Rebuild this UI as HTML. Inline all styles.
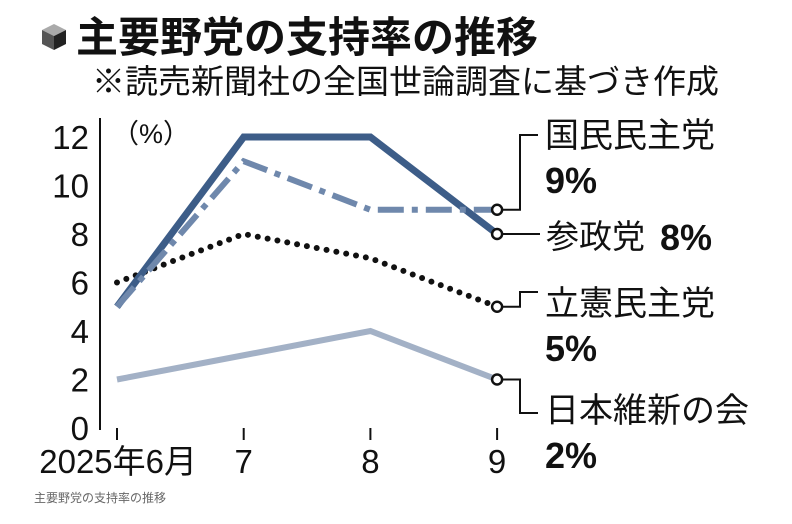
<!DOCTYPE html>
<html><head><meta charset="utf-8"><style>
html,body{margin:0;padding:0;background:#fff;}
svg{display:block;font-family:"Liberation Sans","Noto Sans CJK JP",sans-serif;}
</style></head><body>
<svg id="chart" width="792" height="524" viewBox="0 0 792 524">
<g>
<polygon points="42,30 54,24 66,30 54,36" fill="#aaa"/>
<polygon points="42,30 54,36 54,50 42,44" fill="#555"/>
<polygon points="54,36 66,30 66,44 54,50" fill="#222"/>
</g>
<text x="76" y="52" font-size="42" font-weight="bold" fill="#111">主要野党の支持率の推移</text>
<text x="92" y="93" font-size="33" fill="#111">※読売新聞社の全国世論調査に基づき作成</text>
<text x="112" y="143" font-size="27" fill="#111">（%）</text>
<g id="axes"></g>
<g id="series"></g>
<g id="labels"></g>
<text x="34" y="502" font-size="12" fill="#666">主要野党の支持率の推移</text>
</svg>
<script>
const categories=["2025年6月","7","8","9"];
const yTicks=[0,2,4,6,8,10,12];
const kokumin=[5,11,9,9];
const sansei=[5,12,12,8];
const rikken=[6,8,7,5];
const ishin=[2,3,4,2];
const NS="http://www.w3.org/2000/svg";
function x(i){return 117+i*126.7;}
function y(v){return 428-v*24.25;}
function mk(tag,attrs,parent,text){const e=document.createElementNS(NS,tag);for(const k in attrs)e.setAttribute(k,attrs[k]);if(text!==undefined)e.textContent=text;parent.appendChild(e);return e;}
const ax=document.getElementById('axes');
let a=mk('line',{x1:100,y1:118,x2:100,y2:430,stroke:'#111','stroke-width':2},ax);


yTicks.forEach(v=>{
 const t=mk('text',{x:89,y:y(v)+12,'font-size':33,'text-anchor':'end',fill:'#111'},ax,String(v));
 
 
});
categories.forEach((c,i)=>{
 const l=mk('line',{x1:x(i),y1:428,x2:x(i),y2:440,stroke:'#111','stroke-width':2},ax);
 
 
 const t=mk('text',{x:i==0?x(i)+80:x(i),y:473,'font-size':33,'text-anchor':i==0?'end':'middle',fill:'#111'},ax,c);
 
 
});
const sg=document.getElementById('series');
function line(data,color,w,dash,name,cap){
 const p=mk('polyline',{points:data.map((v,i)=>x(i)+','+y(v)).join(' '),fill:'none',stroke:color,'stroke-width':w,'stroke-dasharray':dash||'none','stroke-linecap':cap||'butt'},sg);
 
 
}
line(ishin,'#a3b1c6',6,null,'line-ishin');
line(rikken,'#111',6,'0 10','line-rikken','round');
line(sansei,'#3d5d88',7,null,'line-sansei');
line(kokumin,'#6f88ac',6,'26 8 6 8','line-kokumin');
const lg=document.getElementById('labels');
function leader(v,pts,name){
 const p=mk('polyline',{points:[[x(3),y(v)]].concat(pts).map(q=>q.join(',')).join(' '),fill:'none',stroke:'#111','stroke-width':2},lg);
 
 
 const c=mk('circle',{cx:x(3),cy:y(v),r:5,fill:'#fff',stroke:'#111','stroke-width':2.5},lg);
 
 
}
leader(kokumin[3],[[520,y(kokumin[3])],[520,135],[538,135]],'kokumin');
leader(sansei[3],[[540,y(sansei[3])]],'sansei');
leader(rikken[3],[[520,y(rikken[3])],[520,292],[538,292]],'rikken');
leader(ishin[3],[[520,y(ishin[3])],[520,413],[538,413]],'ishin');
function lab(xx,yy,txt,size,bold,name){
 const t=mk('text',{x:xx,y:yy,'font-size':size,'font-weight':bold?'bold':'normal',fill:'#111'},lg,txt);
 
 
}
lab(545,147,'国民民主党',34,false,'label-kokumin');
lab(545,193,kokumin[3]+'%',36,true,'value-kokumin');
lab(546,248,'参政党',33,false,'label-sansei');
lab(660,250,sansei[3]+'%',36,true,'value-sansei');
lab(545,315,'立憲民主党',34,false,'label-rikken');
lab(545,361,rikken[3]+'%',36,true,'value-rikken');
lab(545,422,'日本維新の会',34,false,'label-ishin');
lab(545,468,ishin[3]+'%',36,true,'value-ishin');
</script>
</body></html>
